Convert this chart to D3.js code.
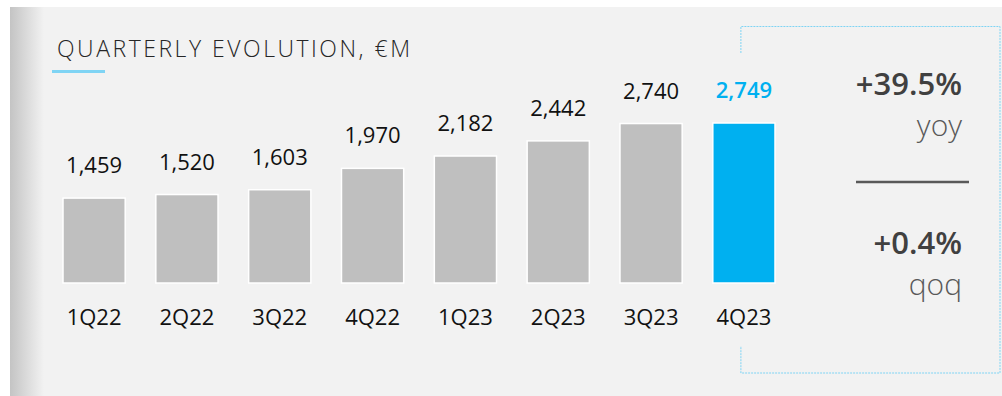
<!DOCTYPE html>
<html>
<head>
<meta charset="utf-8">
<script src="https://cdn.jsdelivr.net/npm/d3@7"></script>
<style>
	body { margin: 0; background: #fff; }
	svg text { font-family: "Open Sans", "Noto Sans", sans-serif; }
</style>
</head>
<body>
<div id="chart"></div>
<script>
	// quarterly values, EUR million
	var quarters = ["1Q22", "2Q22", "3Q22", "4Q22", "1Q23", "2Q23", "3Q23", "4Q23"];
	var values = [1459, 1520, 1603, 1970, 2182, 2442, 2740, 2749];
	var current = "4Q23";
	var growthLabels = ["+39.5%", "+0.4%"];
	var growthNames = ["yoy", "qoq"];

	var width = 1002, height = 396;
	var fmt = d3.format(",");

	var svg = d3.select("#chart").append("svg")
		.attr("width", width)
		.attr("height", height);

	// left shadow strip
	var defs = svg.append("defs");
	var grad = defs.append("linearGradient").attr("id", "shade");
	grad.append("stop").attr("offset", "0%").attr("stop-color", "#c4c4c4");
	grad.append("stop").attr("offset", "100%").attr("stop-color", "#f2f2f2");

	svg.append("rect")
		.attr("x", 10).attr("y", 7)
		.attr("width", width - 10).attr("height", height - 7)
		.attr("fill", "#f2f2f2");
	svg.append("rect")
		.attr("x", 10).attr("y", 7)
		.attr("width", 34).attr("height", height - 7)
		.attr("fill", "url(#shade)");

	// title
	svg.append("text")
		.attr("x", 57).attr("y", 57)
		.attr("textLength", 353)
		.attr("lengthAdjust", "spacing")
		.attr("font-size", 23)
		.attr("font-weight", 300)
		.attr("fill", "#262626")
		.text("QUARTERLY EVOLUTION, €M");
	svg.append("rect")
		.attr("x", 52).attr("y", 70)
		.attr("width", 53).attr("height", 3)
		.attr("fill", "#7fd4f4");

	var x = d3.scaleBand()
		.domain(quarters)
		.range([63, 775])
		.paddingInner(0.33);

	var y = d3.scaleLinear()
		.domain([0, 3000])
		.range([283, 108.4]);

	var data = quarters.map(function(q, i) { return { q: q, v: values[i] }; });

	svg.selectAll(".bar")
		.data(data)
		.enter().append("rect")
		.attr("class", "bar")
		.attr("x", function(d) { return x(d.q); })
		.attr("y", function(d) { return y(d.v); })
		.attr("width", x.bandwidth())
		.attr("height", function(d) { return y(0) - y(d.v); })
		.attr("fill", function(d) { return d.q === current ? "#00b0f0" : "#bfbfbf"; })
		.attr("stroke", "#fff")
		.attr("stroke-width", 1.5);

	svg.selectAll(".val")
		.data(data)
		.enter().append("text")
		.attr("class", "val")
		.attr("x", function(d) { return x(d.q) + x.bandwidth() / 2; })
		.attr("y", function(d) { return y(d.v) - 25; })
		.attr("text-anchor", "middle")
		.attr("font-size", 22)
		.attr("font-weight", function(d) { return d.q === current ? 600 : 400; })
		.attr("fill", function(d) { return d.q === current ? "#00b0f0" : "#111"; })
		.text(function(d) { return fmt(d.v); });

	svg.selectAll(".cat")
		.data(quarters)
		.enter().append("text")
		.attr("class", "cat")
		.attr("x", function(d) { return x(d) + x.bandwidth() / 2; })
		.attr("y", 325)
		.attr("text-anchor", "middle")
		.attr("font-size", 22)
		.attr("fill", "#111")
		.text(function(d) { return d; });

	// dashed bracket round the growth box
	var bx = x(current) + x.bandwidth() / 2 - 3;
	svg.append("path")
		.attr("d", "M" + bx + ",53V26.5H1000V373H" + bx + "V346")
		.attr("fill", "none")
		.attr("stroke", "#7fd4f4")
		.attr("stroke-width", 1)
		.attr("stroke-dasharray", "2,1");

	var gy = [95, 254];
	growthLabels.forEach(function(t, i) {
		svg.append("text")
			.attr("x", 962).attr("y", gy[i])
			.attr("text-anchor", "end")
			.attr("font-size", 31)
			.attr("font-weight", 600)
			.attr("fill", "#404040")
			.text(t);
		svg.append("text")
			.attr("x", 962).attr("y", gy[i] + 41)
			.attr("text-anchor", "end")
			.attr("font-size", 30)
			.attr("font-weight", 300)
			.attr("fill", "#595959")
			.text(growthNames[i]);
	});

	svg.append("line")
		.attr("x1", 856).attr("x2", 969)
		.attr("y1", 182).attr("y2", 182)
		.attr("stroke", "#595959")
		.attr("stroke-width", 2.5);
</script>
</body>
</html>
